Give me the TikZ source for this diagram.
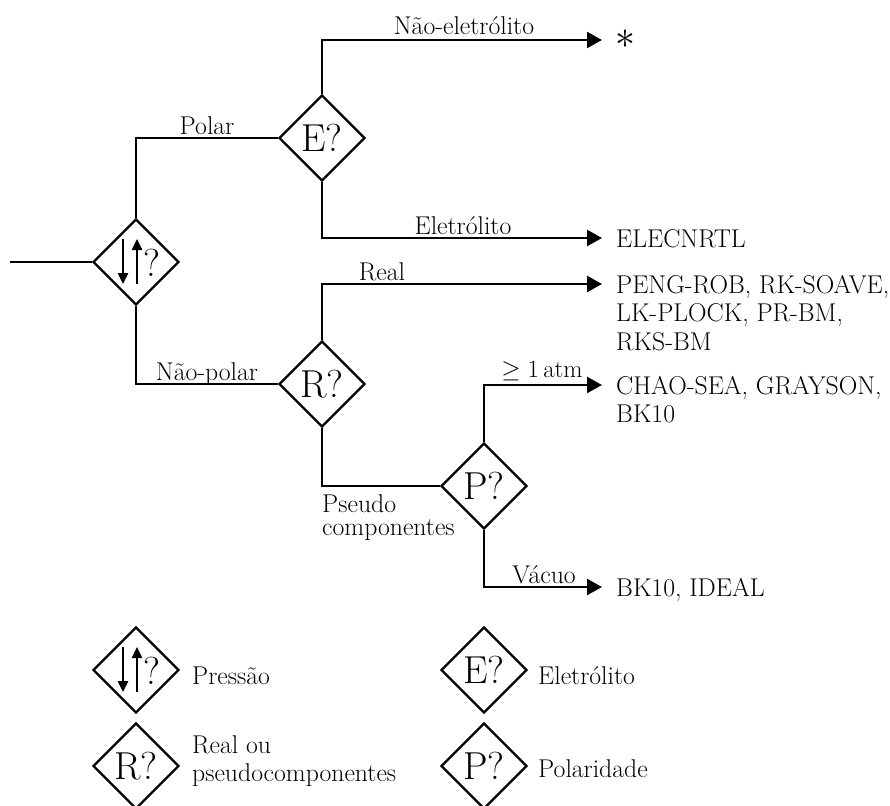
\documentclass[tikz,border=0pt]{standalone}
\usetikzlibrary{shapes.geometric,arrows.meta,calc}
\begin{document}
\begin{tikzpicture}[x=1pt,y=-1pt,
  dec/.style={shape=diamond, draw, line width=2.4pt, minimum width=86pt, minimum height=86pt, inner sep=0pt, font=\fontsize{39}{42}\selectfont},
  conn/.style={line width=2.4pt},
  arr/.style={line width=2.4pt, -{Triangle[length=15pt,width=16pt]}},
  lbl/.style={font=\fontsize{25.7}{28.5}\selectfont, inner sep=0pt, anchor=base},
  outb/.style={font=\fontsize{25.7}{28.5}\selectfont, inner sep=0pt, anchor=base west},
  outm/.style={font=\fontsize{25.7}{28.5}\selectfont, inner sep=0pt, anchor=north west, align=left},
  sym/.style={line width=2.4pt, -{Triangle[length=11pt,width=10pt]}},
  qm/.style={font=\fontsize{39}{42}\selectfont, inner sep=0pt}
]
\useasboundingbox (0,0) rectangle (890,805);
\clip (0,0) rectangle (890,805);

% decision nodes
\node[dec] (p) at (136,262) {};
\node[dec] (e) at (322,138) {E?};
\node[dec] (r) at (322,384) {R?};
\node[dec] (q) at (484,486) {P?};

% pressure symbol
\draw[sym] ([xshift=-13pt,yshift=23pt]p.center) -- ([xshift=-13pt,yshift=-22pt]p.center);
\draw[sym] ([xshift=1pt,yshift=-22pt]p.center) -- ([xshift=1pt,yshift=23pt]p.center);
\node[qm] (pq) at ([xshift=16pt,yshift=-1pt]p.center) {?};

% ends
\coordinate (in) at (10,262);
\coordinate (t1) at (602,40);
\coordinate (t2) at (602,238);
\coordinate (t3) at (602,284);
\coordinate (t4) at (602,385);
\coordinate (t5) at (602,587);

% connectors
\draw[conn] (in) -- (p.west);
\draw[conn] (p.north) |- (e.west);
\draw[conn] (p.south) |- (r.west);
\draw[arr] (e.north) |- (t1);
\draw[arr] (e.south) |- (t2);
\draw[arr] (r.north) |- (t3);
\draw[conn] (r.south) |- (q.west);
\draw[arr] (q.north) |- (t4);
\draw[arr] (q.south) |- (t5);

% labels
\node[lbl] (l1) at (464,35) {Não-eletrólito};
\node[lbl] (l2) at (207,135) {Polar};
\node[lbl] (l3) at (463,234) {Eletrólito};
\node[lbl] (l4) at (382,280) {Real};
\node[lbl] (l5) at (207,380) {Não-polar};
\node[lbl] (l6) at (542,377) {$\geq 1\,\mathrm{atm}$};
\node[lbl] (l7) at (544,583) {Vácuo};
\node[outm] (l8) at (322,494) {Pseudo\\[-5pt]componentes};

% outputs
\node[font=\fontsize{25.7}{28.5}\selectfont, inner sep=0pt, anchor=west, scale=1.6] (o1) at (615,39) {$\ast$};
\node[outb] (o2) at (616,247) {ELECNRTL};
\node[outm] (o3) at (616,275) {PENG-ROB, RK-SOAVE,\\LK-PLOCK, PR-BM,\\RKS-BM};
\node[outm] (o4) at (616,376) {CHAO-SEA, GRAYSON,\\BK10};
\node[outb] (o5) at (616,596) {BK10, IDEAL};

% legend
\node[dec] (lp) at (136,670) {};
\draw[sym] ([xshift=-13pt,yshift=23pt]lp.center) -- ([xshift=-13pt,yshift=-22pt]lp.center);
\draw[sym] ([xshift=1pt,yshift=-22pt]lp.center) -- ([xshift=1pt,yshift=23pt]lp.center);
\node[qm] (lpq) at ([xshift=16pt,yshift=-1pt]lp.center) {?};
\node[dec] (le) at (484,670) {E?};
\node[dec] (lr) at (136,766) {R?};
\node[dec] (lq) at (484,766) {P?};

\node[outb] (tp) at (192,684) {Pressão};
\node[outb] (te) at (538,684) {Eletrólito};
\node[outm] (tr) at (192,735) {Real ou\\pseudocomponentes};
\node[outb] (tq) at (538,777) {Polaridade};
\end{tikzpicture}
\end{document}
